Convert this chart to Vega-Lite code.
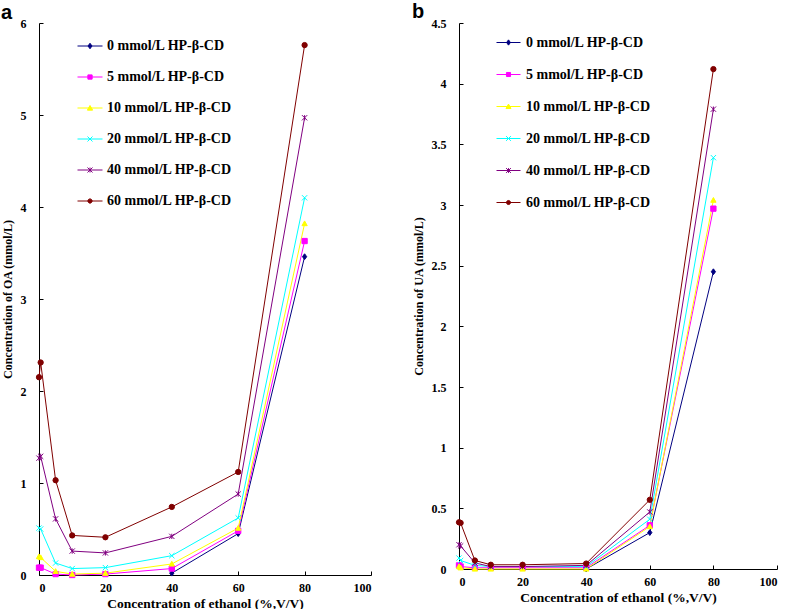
{
  "$schema": "https://vega.github.io/schema/vega-lite/v6.json",
  "padding": {"left": 1, "top": 2, "right": 0, "bottom": 0},
  "background": "white",
  "spacing": 40,
  "datasets": {
    "oa": [
      {"series": "0 mmol/L HP-β-CD", "ethanol": 40, "conc": 0.02},
      {"series": "0 mmol/L HP-β-CD", "ethanol": 60, "conc": 0.45},
      {"series": "0 mmol/L HP-β-CD", "ethanol": 80, "conc": 3.46},
      {"series": "5 mmol/L HP-β-CD", "ethanol": 0, "conc": 0.08},
      {"series": "5 mmol/L HP-β-CD", "ethanol": 0.5, "conc": 0.08},
      {"series": "5 mmol/L HP-β-CD", "ethanol": 5, "conc": 0.01},
      {"series": "5 mmol/L HP-β-CD", "ethanol": 10, "conc": 0.0},
      {"series": "5 mmol/L HP-β-CD", "ethanol": 20, "conc": 0.01},
      {"series": "5 mmol/L HP-β-CD", "ethanol": 40, "conc": 0.07},
      {"series": "5 mmol/L HP-β-CD", "ethanol": 60, "conc": 0.48},
      {"series": "5 mmol/L HP-β-CD", "ethanol": 80, "conc": 3.63},
      {"series": "10 mmol/L HP-β-CD", "ethanol": 0, "conc": 0.2},
      {"series": "10 mmol/L HP-β-CD", "ethanol": 0.5, "conc": 0.19},
      {"series": "10 mmol/L HP-β-CD", "ethanol": 5, "conc": 0.04},
      {"series": "10 mmol/L HP-β-CD", "ethanol": 10, "conc": 0.01},
      {"series": "10 mmol/L HP-β-CD", "ethanol": 20, "conc": 0.02},
      {"series": "10 mmol/L HP-β-CD", "ethanol": 40, "conc": 0.12},
      {"series": "10 mmol/L HP-β-CD", "ethanol": 60, "conc": 0.51},
      {"series": "10 mmol/L HP-β-CD", "ethanol": 80, "conc": 3.82},
      {"series": "20 mmol/L HP-β-CD", "ethanol": 0, "conc": 0.51},
      {"series": "20 mmol/L HP-β-CD", "ethanol": 0.5, "conc": 0.5},
      {"series": "20 mmol/L HP-β-CD", "ethanol": 5, "conc": 0.13},
      {"series": "20 mmol/L HP-β-CD", "ethanol": 10, "conc": 0.07},
      {"series": "20 mmol/L HP-β-CD", "ethanol": 20, "conc": 0.08},
      {"series": "20 mmol/L HP-β-CD", "ethanol": 40, "conc": 0.21},
      {"series": "20 mmol/L HP-β-CD", "ethanol": 60, "conc": 0.62},
      {"series": "20 mmol/L HP-β-CD", "ethanol": 80, "conc": 4.1},
      {"series": "40 mmol/L HP-β-CD", "ethanol": 0, "conc": 1.27},
      {"series": "40 mmol/L HP-β-CD", "ethanol": 0.5, "conc": 1.29},
      {"series": "40 mmol/L HP-β-CD", "ethanol": 5, "conc": 0.61},
      {"series": "40 mmol/L HP-β-CD", "ethanol": 10, "conc": 0.26},
      {"series": "40 mmol/L HP-β-CD", "ethanol": 20, "conc": 0.24},
      {"series": "40 mmol/L HP-β-CD", "ethanol": 40, "conc": 0.42},
      {"series": "40 mmol/L HP-β-CD", "ethanol": 60, "conc": 0.88},
      {"series": "40 mmol/L HP-β-CD", "ethanol": 80, "conc": 4.97},
      {"series": "60 mmol/L HP-β-CD", "ethanol": 0, "conc": 2.15},
      {"series": "60 mmol/L HP-β-CD", "ethanol": 0.5, "conc": 2.31},
      {"series": "60 mmol/L HP-β-CD", "ethanol": 5, "conc": 1.03},
      {"series": "60 mmol/L HP-β-CD", "ethanol": 10, "conc": 0.43},
      {"series": "60 mmol/L HP-β-CD", "ethanol": 20, "conc": 0.41},
      {"series": "60 mmol/L HP-β-CD", "ethanol": 40, "conc": 0.74},
      {"series": "60 mmol/L HP-β-CD", "ethanol": 60, "conc": 1.12},
      {"series": "60 mmol/L HP-β-CD", "ethanol": 80, "conc": 5.76}
    ],
    "ua": [
      {"series": "0 mmol/L HP-β-CD", "ethanol": 40, "conc": 0.0},
      {"series": "0 mmol/L HP-β-CD", "ethanol": 60, "conc": 0.3},
      {"series": "0 mmol/L HP-β-CD", "ethanol": 80, "conc": 2.45},
      {"series": "5 mmol/L HP-β-CD", "ethanol": 0, "conc": 0.03},
      {"series": "5 mmol/L HP-β-CD", "ethanol": 0.5, "conc": 0.02},
      {"series": "5 mmol/L HP-β-CD", "ethanol": 5, "conc": 0.01},
      {"series": "5 mmol/L HP-β-CD", "ethanol": 10, "conc": 0.01},
      {"series": "5 mmol/L HP-β-CD", "ethanol": 20, "conc": 0.01},
      {"series": "5 mmol/L HP-β-CD", "ethanol": 40, "conc": 0.01},
      {"series": "5 mmol/L HP-β-CD", "ethanol": 60, "conc": 0.36},
      {"series": "5 mmol/L HP-β-CD", "ethanol": 80, "conc": 2.97},
      {"series": "10 mmol/L HP-β-CD", "ethanol": 0, "conc": 0.02},
      {"series": "10 mmol/L HP-β-CD", "ethanol": 0.5, "conc": 0.01},
      {"series": "10 mmol/L HP-β-CD", "ethanol": 5, "conc": 0.0},
      {"series": "10 mmol/L HP-β-CD", "ethanol": 10, "conc": 0.0},
      {"series": "10 mmol/L HP-β-CD", "ethanol": 20, "conc": 0.0},
      {"series": "10 mmol/L HP-β-CD", "ethanol": 40, "conc": 0.0},
      {"series": "10 mmol/L HP-β-CD", "ethanol": 60, "conc": 0.35},
      {"series": "10 mmol/L HP-β-CD", "ethanol": 80, "conc": 3.04},
      {"series": "20 mmol/L HP-β-CD", "ethanol": 0, "conc": 0.09},
      {"series": "20 mmol/L HP-β-CD", "ethanol": 0.5, "conc": 0.07},
      {"series": "20 mmol/L HP-β-CD", "ethanol": 5, "conc": 0.03},
      {"series": "20 mmol/L HP-β-CD", "ethanol": 10, "conc": 0.02},
      {"series": "20 mmol/L HP-β-CD", "ethanol": 20, "conc": 0.02},
      {"series": "20 mmol/L HP-β-CD", "ethanol": 40, "conc": 0.02},
      {"series": "20 mmol/L HP-β-CD", "ethanol": 60, "conc": 0.41},
      {"series": "20 mmol/L HP-β-CD", "ethanol": 80, "conc": 3.39},
      {"series": "40 mmol/L HP-β-CD", "ethanol": 0, "conc": 0.2},
      {"series": "40 mmol/L HP-β-CD", "ethanol": 0.5, "conc": 0.19},
      {"series": "40 mmol/L HP-β-CD", "ethanol": 5, "conc": 0.05},
      {"series": "40 mmol/L HP-β-CD", "ethanol": 10, "conc": 0.02},
      {"series": "40 mmol/L HP-β-CD", "ethanol": 20, "conc": 0.02},
      {"series": "40 mmol/L HP-β-CD", "ethanol": 40, "conc": 0.03},
      {"series": "40 mmol/L HP-β-CD", "ethanol": 60, "conc": 0.47},
      {"series": "40 mmol/L HP-β-CD", "ethanol": 80, "conc": 3.79},
      {"series": "60 mmol/L HP-β-CD", "ethanol": 0, "conc": 0.385},
      {"series": "60 mmol/L HP-β-CD", "ethanol": 0.5, "conc": 0.38},
      {"series": "60 mmol/L HP-β-CD", "ethanol": 5, "conc": 0.07},
      {"series": "60 mmol/L HP-β-CD", "ethanol": 10, "conc": 0.035},
      {"series": "60 mmol/L HP-β-CD", "ethanol": 20, "conc": 0.035},
      {"series": "60 mmol/L HP-β-CD", "ethanol": 40, "conc": 0.045},
      {"series": "60 mmol/L HP-β-CD", "ethanol": 60, "conc": 0.57},
      {"series": "60 mmol/L HP-β-CD", "ethanol": 80, "conc": 4.12}
    ]
  },
  "hconcat": [
    {
      "title": {"text": "a", "offset": -6},
      "width": 332,
      "height": 552,
      "data": {"name": "oa"},
      "encoding": {
        "x": {"field": "ethanol", "type": "quantitative", "scale": {"domain": [0, 100], "nice": false}, "axis": {"values": [0, 20, 40, 60, 80, 100], "title": "Concentration of ethanol (%,V/V)"}},
        "y": {"field": "conc", "type": "quantitative", "scale": {"domain": [0, 6], "nice": false}, "axis": {"values": [0, 1, 2, 3, 4, 5, 6], "format": "~g", "title": "Concentration of OA (mmol/L)"}}
      },
      "layer": [
        {
          "mark": {"type": "line", "strokeWidth": 1},
          "encoding": {
            "color": {"field": "series", "type": "nominal", "legend": null,
              "scale": {"domain": ["0 mmol/L HP-β-CD", "5 mmol/L HP-β-CD", "10 mmol/L HP-β-CD", "20 mmol/L HP-β-CD", "40 mmol/L HP-β-CD", "60 mmol/L HP-β-CD"],
                        "range": ["#000080", "#FF00FF", "#FFFF00", "#00FFFF", "#800080", "#800000"]}}
          }
        },
        {
          "mark": {"type": "point", "filled": true, "size": 28, "strokeWidth": 1, "opacity": 1},
          "encoding": {
            "fill": {"field": "series", "type": "nominal", "legend": null,
              "scale": {"domain": ["0 mmol/L HP-β-CD", "5 mmol/L HP-β-CD", "10 mmol/L HP-β-CD", "20 mmol/L HP-β-CD", "40 mmol/L HP-β-CD", "60 mmol/L HP-β-CD"],
                        "range": ["#000080", "#FF00FF", "#FFFF00", "#00FFFF", "#800080", "#800000"]}},
            "stroke": {"field": "series", "type": "nominal", "legend": null,
              "scale": {"domain": ["0 mmol/L HP-β-CD", "5 mmol/L HP-β-CD", "10 mmol/L HP-β-CD", "20 mmol/L HP-β-CD", "40 mmol/L HP-β-CD", "60 mmol/L HP-β-CD"],
                        "range": ["#000080", "#FF00FF", "#FFFF00", "#00FFFF", "#800080", "#800000"]}},
            "shape": {"field": "series", "type": "nominal", "legend": null,
              "scale": {"domain": ["0 mmol/L HP-β-CD", "5 mmol/L HP-β-CD", "10 mmol/L HP-β-CD", "20 mmol/L HP-β-CD", "40 mmol/L HP-β-CD", "60 mmol/L HP-β-CD"],
                        "range": ["M0,-1.1L0.8,0L0,1.1L-0.8,0Z", "square", "M0,-1L1,0.8L-1,0.8Z", "M-1,-1L1,1M-1,1L1,-1", "M-1,-1L1,1M-1,1L1,-1M0,-1L0,1", "circle"]}}
          }
        },
        {
          "mark": {"type": "point", "filled": true, "size": 28, "strokeWidth": 1, "opacity": 0},
          "encoding": {
            "fill": {"field": "series", "type": "nominal",
              "scale": {"domain": ["0 mmol/L HP-β-CD", "5 mmol/L HP-β-CD", "10 mmol/L HP-β-CD", "20 mmol/L HP-β-CD", "40 mmol/L HP-β-CD", "60 mmol/L HP-β-CD"],
                        "range": ["#000080", "#FF00FF", "#FFFF00", "#00FFFF", "#800080", "#800000"]},
              "legend": {"orient": "none", "legendX": 38, "legendY": 10, "title": null, "padding": 0, "rowPadding": 11, "symbolSize": 625, "symbolStrokeWidth": 1, "symbolOpacity": 1, "labelOffset": 4}},
            "stroke": {"field": "series", "type": "nominal",
              "scale": {"domain": ["0 mmol/L HP-β-CD", "5 mmol/L HP-β-CD", "10 mmol/L HP-β-CD", "20 mmol/L HP-β-CD", "40 mmol/L HP-β-CD", "60 mmol/L HP-β-CD"],
                        "range": ["#000080", "#FF00FF", "#FFFF00", "#00FFFF", "#800080", "#800000"]},
              "legend": {"orient": "none", "legendX": 38, "legendY": 10, "title": null, "padding": 0, "rowPadding": 11, "symbolSize": 625, "symbolStrokeWidth": 1, "symbolOpacity": 1, "labelOffset": 4}},
            "shape": {"field": "series", "type": "nominal",
              "scale": {"domain": ["0 mmol/L HP-β-CD", "5 mmol/L HP-β-CD", "10 mmol/L HP-β-CD", "20 mmol/L HP-β-CD", "40 mmol/L HP-β-CD", "60 mmol/L HP-β-CD"],
                        "range": ["M-1,0L1,0M0,-0.22L0.16,0L0,0.22L-0.16,0Z", "M-1,0L1,0M-0.17,-0.17L0.17,-0.17L0.17,0.17L-0.17,0.17Z", "M-1,0L1,0M0,-0.2L0.21,0.17L-0.21,0.17Z", "M-1,0L1,0M-0.2,-0.2L0.2,0.2M-0.2,0.2L0.2,-0.2", "M-1,0L1,0M-0.2,-0.2L0.2,0.2M-0.2,0.2L0.2,-0.2M0,-0.2L0,0.2", "M-1,0L1,0M-0.17,0A0.17,0.17,0,1,0,0.17,0A0.17,0.17,0,1,0,-0.17,0Z"]},
              "legend": {"orient": "none", "legendX": 38, "legendY": 10, "title": null, "padding": 0, "rowPadding": 11, "symbolSize": 625, "symbolStrokeWidth": 1, "symbolOpacity": 1, "labelOffset": 4}}
          }
        }
      ],
      "resolve": {"scale": {"fill": "independent", "stroke": "independent", "shape": "independent"}}
    },
    {
      "title": {"text": "b", "offset": -5},
      "width": 318,
      "height": 546,
      "data": {"name": "ua"},
      "encoding": {
        "x": {"field": "ethanol", "type": "quantitative", "scale": {"domain": [0, 100], "nice": false}, "axis": {"values": [0, 20, 40, 60, 80, 100], "title": "Concentration of ethanol (%,V/V)"}},
        "y": {"field": "conc", "type": "quantitative", "scale": {"domain": [0, 4.5], "nice": false}, "axis": {"values": [0, 0.5, 1, 1.5, 2, 2.5, 3, 3.5, 4, 4.5], "format": "~g", "title": "Concentration of UA (mmol/L)"}}
      },
      "layer": [
        {
          "mark": {"type": "line", "strokeWidth": 1},
          "encoding": {
            "color": {"field": "series", "type": "nominal", "legend": null,
              "scale": {"domain": ["0 mmol/L HP-β-CD", "5 mmol/L HP-β-CD", "10 mmol/L HP-β-CD", "20 mmol/L HP-β-CD", "40 mmol/L HP-β-CD", "60 mmol/L HP-β-CD"],
                        "range": ["#000080", "#FF00FF", "#FFFF00", "#00FFFF", "#800080", "#800000"]}}
          }
        },
        {
          "mark": {"type": "point", "filled": true, "size": 28, "strokeWidth": 1, "opacity": 1},
          "encoding": {
            "fill": {"field": "series", "type": "nominal", "legend": null,
              "scale": {"domain": ["0 mmol/L HP-β-CD", "5 mmol/L HP-β-CD", "10 mmol/L HP-β-CD", "20 mmol/L HP-β-CD", "40 mmol/L HP-β-CD", "60 mmol/L HP-β-CD"],
                        "range": ["#000080", "#FF00FF", "#FFFF00", "#00FFFF", "#800080", "#800000"]}},
            "stroke": {"field": "series", "type": "nominal", "legend": null,
              "scale": {"domain": ["0 mmol/L HP-β-CD", "5 mmol/L HP-β-CD", "10 mmol/L HP-β-CD", "20 mmol/L HP-β-CD", "40 mmol/L HP-β-CD", "60 mmol/L HP-β-CD"],
                        "range": ["#000080", "#FF00FF", "#FFFF00", "#00FFFF", "#800080", "#800000"]}},
            "shape": {"field": "series", "type": "nominal", "legend": null,
              "scale": {"domain": ["0 mmol/L HP-β-CD", "5 mmol/L HP-β-CD", "10 mmol/L HP-β-CD", "20 mmol/L HP-β-CD", "40 mmol/L HP-β-CD", "60 mmol/L HP-β-CD"],
                        "range": ["M0,-1.1L0.8,0L0,1.1L-0.8,0Z", "square", "M0,-1L1,0.8L-1,0.8Z", "M-1,-1L1,1M-1,1L1,-1", "M-1,-1L1,1M-1,1L1,-1M0,-1L0,1", "circle"]}}
          }
        },
        {
          "mark": {"type": "point", "filled": true, "size": 28, "strokeWidth": 1, "opacity": 0},
          "encoding": {
            "fill": {"field": "series", "type": "nominal",
              "scale": {"domain": ["0 mmol/L HP-β-CD", "5 mmol/L HP-β-CD", "10 mmol/L HP-β-CD", "20 mmol/L HP-β-CD", "40 mmol/L HP-β-CD", "60 mmol/L HP-β-CD"],
                        "range": ["#000080", "#FF00FF", "#FFFF00", "#00FFFF", "#800080", "#800000"]},
              "legend": {"orient": "none", "legendX": 37, "legendY": 7, "title": null, "padding": 0, "rowPadding": 12, "symbolSize": 576, "symbolStrokeWidth": 1, "symbolOpacity": 1, "labelOffset": 5}},
            "stroke": {"field": "series", "type": "nominal",
              "scale": {"domain": ["0 mmol/L HP-β-CD", "5 mmol/L HP-β-CD", "10 mmol/L HP-β-CD", "20 mmol/L HP-β-CD", "40 mmol/L HP-β-CD", "60 mmol/L HP-β-CD"],
                        "range": ["#000080", "#FF00FF", "#FFFF00", "#00FFFF", "#800080", "#800000"]},
              "legend": {"orient": "none", "legendX": 37, "legendY": 7, "title": null, "padding": 0, "rowPadding": 12, "symbolSize": 576, "symbolStrokeWidth": 1, "symbolOpacity": 1, "labelOffset": 5}},
            "shape": {"field": "series", "type": "nominal",
              "scale": {"domain": ["0 mmol/L HP-β-CD", "5 mmol/L HP-β-CD", "10 mmol/L HP-β-CD", "20 mmol/L HP-β-CD", "40 mmol/L HP-β-CD", "60 mmol/L HP-β-CD"],
                        "range": ["M-1,0L1,0M0,-0.22L0.16,0L0,0.22L-0.16,0Z", "M-1,0L1,0M-0.17,-0.17L0.17,-0.17L0.17,0.17L-0.17,0.17Z", "M-1,0L1,0M0,-0.2L0.21,0.17L-0.21,0.17Z", "M-1,0L1,0M-0.2,-0.2L0.2,0.2M-0.2,0.2L0.2,-0.2", "M-1,0L1,0M-0.2,-0.2L0.2,0.2M-0.2,0.2L0.2,-0.2M0,-0.2L0,0.2", "M-1,0L1,0M-0.17,0A0.17,0.17,0,1,0,0.17,0A0.17,0.17,0,1,0,-0.17,0Z"]},
              "legend": {"orient": "none", "legendX": 37, "legendY": 7, "title": null, "padding": 0, "rowPadding": 12, "symbolSize": 576, "symbolStrokeWidth": 1, "symbolOpacity": 1, "labelOffset": 5}}
          }
        }
      ],
      "resolve": {"scale": {"fill": "independent", "stroke": "independent", "shape": "independent"}}
    }
  ],
  "config": {
    "view": {"stroke": null},
    "title": {"anchor": "start", "frame": "bounds", "font": "Liberation Sans", "fontSize": 20, "fontWeight": "bold", "color": "black", "offset": -7},
    "axis": {
      "grid": false,
      "domainColor": "black",
      "domainWidth": 1,
      "tickColor": "black",
      "tickSize": -4,
      "labelFont": "Liberation Serif",
      "labelFontWeight": "bold",
      "labelFontSize": 12,
      "labelColor": "black",
      "titleFont": "Liberation Serif",
      "titleFontWeight": "bold",
      "titleFontSize": 12,
      "titleColor": "black"
    },
    "axisY": {"labelPadding": 17, "titlePadding": 6},
    "axisX": {"labelPadding": 11, "titlePadding": 3, "titleFontSize": 13.5},
    "legend": {"labelFont": "Liberation Serif", "labelFontWeight": "bold", "labelFontSize": 14, "labelColor": "black"}
  }
}
